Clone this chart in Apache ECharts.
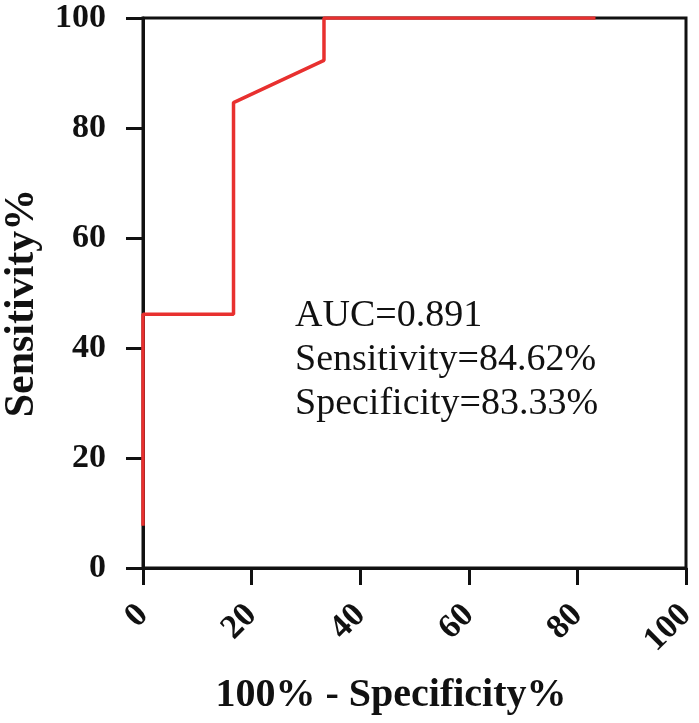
<!DOCTYPE html>
<html>
<head>
<meta charset="utf-8">
<script src="https://cdn.jsdelivr.net/npm/echarts@6/dist/echarts.min.js"></script>
<style>
html, body { margin: 0; padding: 0; background: #fff; }
#roc { width: 699px; height: 723px; }
</style>
</head>
<body>
<div id="roc"></div>
<script>
// ROC curve points (100% - specificity, sensitivity)
var fpr = [0, 0, 16.67, 16.67, 33.33, 33.33, 83.33];
var sens = [7.69, 46.15, 46.15, 84.62, 92.31, 100, 100];
var xTicks = [0, 20, 40, 60, 80, 100];
var yTicks = [0, 20, 40, 60, 80, 100];
var notes = ['AUC=0.891', 'Sensitivity=84.62%', 'Specificity=83.33%'];

var rocChart = echarts.init(document.getElementById('roc'));

var points = [];
for (var i = 0; i < fpr.length; i++) {
    points.push([fpr[i], sens[i]]);
}

var serif = '"Liberation Serif", "Times New Roman", serif';

var option = {
    backgroundColor: '#fff',
    animation: false,
    grid: {
        left: 143, right: 13, top: 18, bottom: 155,
        outerBoundsMode: 'none',
        containLabel: false,
        show: true,
        borderColor: '#111',
        borderWidth: 3
    },
    xAxis: {
        type: 'value',
        min: 0, max: 100, interval: 20,
        splitLine: { show: false },
        axisLine: { lineStyle: { color: '#111', width: 3 } },
        axisTick: { length: 17, lineStyle: { color: '#111', width: 3 } },
        axisLabel: {
            rotate: 45,
            margin: 42,
            align: 'right',
            verticalAlign: 'middle',
            color: '#111',
            fontFamily: serif,
            fontWeight: 'bold',
            fontSize: 34,
            formatter: function (v) { return xTicks.indexOf(v) >= 0 ? String(v) : ''; }
        }
    },
    yAxis: {
        type: 'value',
        min: 0, max: 100, interval: 20,
        splitLine: { show: false },
        axisLine: { lineStyle: { color: '#111', width: 3 } },
        axisTick: { length: 17, lineStyle: { color: '#111', width: 3 } },
        axisLabel: {
            margin: 37,
            color: '#111',
            fontFamily: serif,
            fontWeight: 'bold',
            fontSize: 34,
            formatter: function (v) { return yTicks.indexOf(v) >= 0 ? String(v) : ''; }
        }
    },
    graphic: [{
        type: 'text',
        x: 22,
        y: 303,
        rotation: Math.PI / 2,
        style: {
            text: 'Sensitivity%',
            fontFamily: serif,
            fontWeight: 'bold',
            fontSize: 42,
            align: 'center',
            verticalAlign: 'middle',
            fill: '#111'
        }
    }, {
        type: 'text',
        x: 391,
        y: 696,
        style: {
            text: '100% - Specificity%',
            fontFamily: serif,
            fontWeight: 'bold',
            fontSize: 40,
            align: 'center',
            verticalAlign: 'middle',
            fill: '#111'
        }
    }, {
        type: 'text',
        left: 295,
        top: 294,
        style: {
            text: notes.join('\n'),
            fontFamily: serif,
            fontSize: 38,
            lineHeight: 44,
            fill: '#111'
        }
    }],
    series: [{
        type: 'line',
        data: points,
        symbol: 'none',
        lineStyle: { color: '#e8302f', width: 3.5 },
        z: 5
    }]
};
rocChart.setOption(option);
</script>
</body>
</html>
